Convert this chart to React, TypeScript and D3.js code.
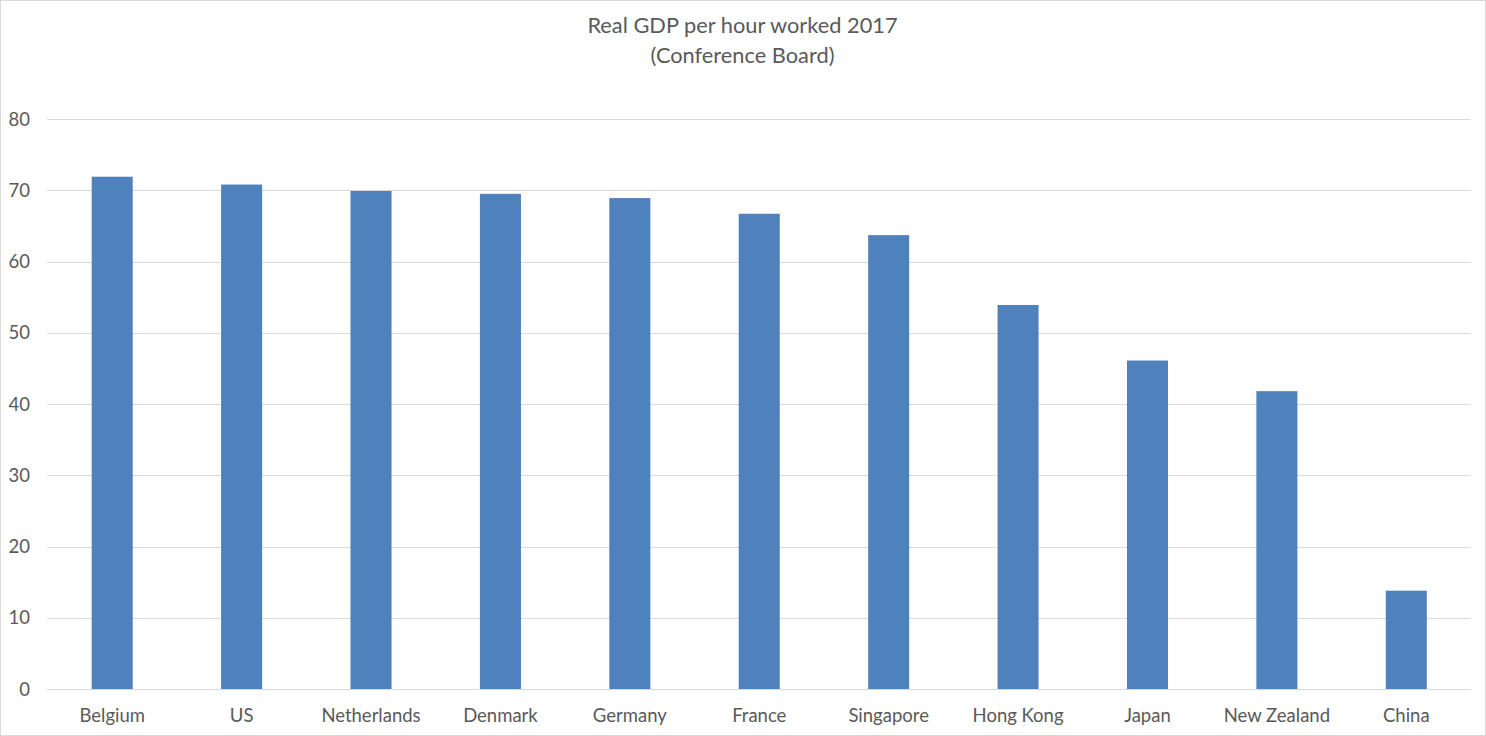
import React from "react";
import * as d3 from "d3";

const categories = ["Belgium", "US", "Netherlands", "Denmark", "Germany", "France", "Singapore", "Hong Kong", "Japan", "New Zealand", "China"];
const values = [71.9, 70.8, 69.9, 69.5, 68.9, 66.7, 63.7, 53.9, 46.1, 41.8, 13.8];
const yTicks = [0, 10, 20, 30, 40, 50, 60, 70, 80];
const titleLines = ["Real GDP per hour worked 2017", "(Conference Board)"];

const W = 1486, H = 736;
const FONT = "Lato, 'Open Sans', sans-serif";

export default function App() {
  const x = d3.scaleBand<string>().domain(categories).range([47.5, 1471]).padding(0);
  const y = d3.scaleLinear().domain([0, 80]).range([689, 119]);
  const barW = x.bandwidth() * 0.317;
  return (
    <svg width={W} height={H} style={{ position: "absolute", left: 0, top: 0, display: "block" }}>
      <rect x={0.5} y={0.5} width={W - 1} height={H - 1} fill="#fff" stroke="#d9d9d9" />
      {titleLines.map((t, i) => (
        <text key={i} x={742.5} y={33 + i * 29.5} textAnchor="middle" fontFamily={FONT} fontSize={21.8} fill="#595959">{t}</text>
      ))}
      {yTicks.map((t) => (
        <g key={t}>
          <line x1={47} x2={1470.5} y1={Math.round(y(t)) + 0.5} y2={Math.round(y(t)) + 0.5} stroke="#d9d9d9" strokeWidth={1} />
          <text x={30} y={y(t) + 6.5} textAnchor="end" fontFamily={FONT} fontSize={18.5} fill="#595959">{t}</text>
        </g>
      ))}
      {categories.map((c, i) => {
        const cx = (x(c) as number) + x.bandwidth() / 2;
        return (
          <g key={c}>
            <rect x={cx - barW / 2} y={y(values[i])} width={barW} height={y(0) - y(values[i])} fill="#4f81bd" />
            <text x={cx} y={722} textAnchor="middle" fontFamily={FONT} fontSize={18.5} fill="#595959">{c}</text>
          </g>
        );
      })}
    </svg>
  );
}
